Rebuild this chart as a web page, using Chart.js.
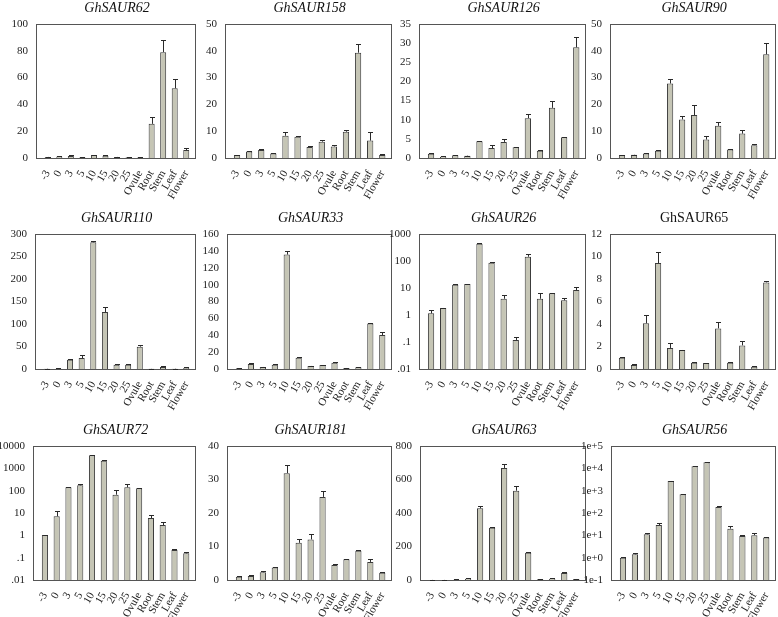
<!DOCTYPE html>
<html><head><meta charset="utf-8">
<script src="https://cdn.jsdelivr.net/npm/chart.js@4.4.1/dist/chart.umd.min.js"></script>
<style>
html,body{margin:0;padding:0;background:#fff;}
body{width:778px;height:617px;position:relative;overflow:hidden;}
canvas{position:absolute;}
</style></head><body>
<script>
// ---------- data ----------
const categories = ["-3","0","3","5","10","15","20","25","Ovule","Root","Stem","Leaf","Flower"];

const titles = ["GhSAUR62","GhSAUR158","GhSAUR126","GhSAUR90",
                "GhSAUR110","GhSAUR33","GhSAUR26","GhSAUR65",
                "GhSAUR72","GhSAUR181","GhSAUR63","GhSAUR56"];
const italicTitles = [true,true,true,true,true,true,true,false,true,true,true,true];

const v62  = [0.8,1.2,1.5,0.5,2.2,1.6,0.8,0.5,0.3,25.5,79,52,6];
const e62  = [0.3,0.3,0.4,0.2,0.4,0.3,0.2,0.2,0.1,4.9,9.2,6.9,1.5];
const v158 = [1.1,2.4,3.0,1.7,8.3,7.9,4.1,6.1,4.3,9.8,39.3,6.5,1.1];
const e158 = [0.2,0.2,0.2,0.3,1.4,0.2,0.3,0.5,0.4,0.5,3.3,3.2,0.5];
const v126 = [1.1,0.35,0.7,0.6,4.4,2.6,4.2,2.8,10.4,1.9,13.1,5.4,28.9];
const e126 = [0.3,0.05,0.05,0.05,0.15,0.7,0.7,0.1,1.1,0.3,1.9,0.2,2.6];
const v90  = [1.1,1.2,1.7,2.7,27.8,14.4,16.0,6.9,12.0,3.2,9.1,4.8,38.7];
const e90  = [0.1,0.1,0.15,0.2,1.6,1.4,3.6,1.3,1.3,0.15,1.2,0.3,4.1];
const v110 = [0.5,0.8,20.7,24.4,281.5,126.7,9.6,9.6,49.6,0.3,4.4,0.5,2];
const e110 = [0.3,0.5,1.5,6.5,2.5,10,2,1,4.5,0.2,1.5,0.3,1.5];
const v33  = [0.8,5.9,2.4,5.1,135.6,13.4,3.6,4.7,7.5,1.2,2,53.8,40.3];
const e33  = [0.2,1.1,0.3,0.5,4,0.5,0.5,0.5,0.5,0.3,0.3,0.8,4];
const v26  = [1.15,1.82,13.3,14,439,87,4.0,0.119,144,4.0,6.35,3.5,8.4];
const e26  = [0.38,0.05,0.3,0.2,38,5,1.5,0.034,32,2.5,0.35,0.8,2.2];
const v65  = [1.0,0.36,4.06,9.42,1.87,1.69,0.56,0.53,3.61,0.56,2.1,0.21,7.7];
const e65  = [0.03,0.05,0.74,1.01,0.44,0.03,0.03,0.03,0.57,0.03,0.39,0.03,0.12];
const v72  = [1.03,7.1,141,173,3820,2200,66,141,127,5.97,2.9,0.22,0.156];
const e72  = [0.05,4.8,5,27,150,80,41,59,5,1.8,0.9,0.03,0.024];
const v181 = [1.0,1.2,2.3,3.7,31.9,11.1,12.1,24.8,4.5,6.2,8.7,5.4,2.2];
const e181 = [0.2,0.2,0.4,0.1,2.4,1.0,1.7,1.7,0.3,0.1,0.4,0.9,0.1];
const v63  = [0.5,0.5,2,8,428,312,669,533,163,4,8,42,6];
const e63  = [0.3,0.3,1,6,16,3,23,26,6,1,2,6,2];
const v56  = [1.0,1.41,11.1,29,2710,685,12300,18600,186,19.9,9.3,10.2,8.1];
const e56  = [0.03,0.15,1.2,7,100,20,400,500,10,6,1.4,2.8,0.5];

// linear axis limits [max, step]
const linMax  = {GhSAUR62:[100,20],GhSAUR158:[50,10],GhSAUR126:[35,5],GhSAUR90:[50,10],
                 GhSAUR110:[300,50],GhSAUR33:[160,20],GhSAUR65:[12,2],GhSAUR181:[40,10],GhSAUR63:[800,200]};
// log axis tick values and labels
const logTicks26  = [0.01,0.1,1,10,100,1000];
const logLabels26 = [".01",".1","1","10","100","1000"];
const logTicks72  = [0.01,0.1,1,10,100,1000,10000];
const logLabels72 = [".01",".1","1","10","100","1000","10000"];
const logTicks56  = [0.1,1,10,100,1000,10000,100000];
const logLabels56 = ["1e-1","1e+0","1e+1","1e+2","1e+3","1e+4","1e+5"];

const seriesValues = [v62,v158,v126,v90,v110,v33,v26,v65,v72,v181,v63,v56];
const seriesErrors = [e62,e158,e126,e90,e110,e33,e26,e65,e72,e181,e63,e56];
const logAxes = {GhSAUR26:[logTicks26,logLabels26],GhSAUR72:[logTicks72,logLabels72],GhSAUR56:[logTicks56,logLabels56]};

// ---------- layout ----------
const rowTop = [24,234,446], rowBottom = [158,369,580];
const axisX = [[36,225,419,610],[35,227,419,610],[33,227,420,611]];
const frameR = [197,393,587,777];
const GAPL = 6, GAPR = 3, YW = 42, XH = 46, TITLE_H = 24;
const FONT = "'Liberation Serif','Times New Roman',Times,serif";

const framePlugin = {
  id: 'frame',
  afterDatasetsDraw(chart, args, opts) {
    const a = chart.chartArea, ctx = chart.ctx;
    ctx.save();
    ctx.strokeStyle = '#555';
    ctx.lineWidth = 1;
    const l = Math.round(a.left - opts.gapL) + 0.5, t = Math.round(a.top) + 0.5;
    const r = Math.round(a.right + opts.gapR) + 0.5, b = Math.round(a.bottom) + 0.5;
    ctx.strokeRect(l, t, r - l, b - t);
    ctx.restore();
  }
};
const errPlugin = {
  id: 'errbars',
  afterDatasetsDraw(chart, args, opts) {
    const ctx = chart.ctx, meta = chart.getDatasetMeta(0), ys = chart.scales.y;
    const vals = chart.data.datasets[0].data, errs = opts.errors || [];
    ctx.save();
    ctx.strokeStyle = '#2a2a2a';
    ctx.lineWidth = 1;
    meta.data.forEach((bar, i) => {
      const e = errs[i]; if (!e) return;
      const x = Math.round(bar.x) + 0.5;
      const y0 = ys.getPixelForValue(vals[i]);
      const y1 = Math.round(ys.getPixelForValue(vals[i] + e)) + 0.5;
      ctx.beginPath();
      ctx.moveTo(x, y0); ctx.lineTo(x, y1);
      ctx.moveTo(x - 2.5, y1); ctx.lineTo(x + 2.5, y1);
      ctx.stroke();
    });
    ctx.restore();
  }
};

titles.forEach((title, i) => {
  const r = Math.floor(i / 4), c = i % 4;
  const ax = axisX[r][c], L = ax + GAPL, R = frameR[c] - GAPR, T = rowTop[r], B = rowBottom[r];
  const cx = L - YW, cy = T - TITLE_H, cw = frameR[c] + 3 - cx, ch = B + XH - cy;
  const cv = document.createElement('canvas');
  cv.width = cw; cv.height = ch;
  cv.style.left = cx + 'px'; cv.style.top = cy + 'px';
  cv.style.width = cw + 'px'; cv.style.height = ch + 'px';
  document.body.appendChild(cv);

  let yScale;
  if (logAxes[title]) {
    const [tv, tl] = logAxes[title];
    yScale = {
      type: 'logarithmic', min: tv[0], max: tv[tv.length - 1],
      afterBuildTicks: s => { s.ticks = tv.map(v => ({value: v, major: true})); },
      ticks: {callback: (v, idx) => tl[idx], color: '#222', font: {family: FONT, size: 11}, padding: 6, autoSkip: false}
    };
  } else {
    const [mx, st] = linMax[title];
    yScale = {
      type: 'linear', min: 0, max: mx,
      ticks: {stepSize: st, color: '#222', font: {family: FONT, size: 11}, padding: 6}
    };
  }
  Object.assign(yScale, {
    position: 'left',
    border: {display: false},
    grid: {display: false},
    afterFit: s => { s.width = YW; }
  });

  new Chart(cv, {
    type: 'bar',
    data: {
      labels: categories,
      datasets: [{
        data: seriesValues[i],
        backgroundColor: '#c5c5b5',
        borderColor: '#3a3a3a',
        borderWidth: 1,
        barPercentage: 0.52,
        categoryPercentage: 1.0
      }]
    },
    options: {
      responsive: false,
      animation: false,
      devicePixelRatio: 1,
      layout: {padding: {left: 0, right: cx + cw - R, top: 0, bottom: 0}},
      plugins: {
        legend: {display: false},
        tooltip: {enabled: false},
        title: {
          display: true, text: title, fullSize: false, color: '#111',
          font: {family: FONT, size: 14, style: italicTitles[i] ? 'italic' : 'normal', weight: 'normal', lineHeight: 1.2},
          padding: {top: 0, bottom: 7.2}
        },
        frame: {gapL: GAPL, gapR: GAPR},
        errbars: {errors: seriesErrors[i]}
      },
      scales: {
        x: {
          border: {display: false},
          grid: {display: false},
          ticks: {color: '#222', font: {family: FONT, size: 11}, minRotation: 60, maxRotation: 60, autoSkip: false, padding: 2},
          afterFit: s => { s.height = XH; }
        },
        y: yScale
      }
    },
    plugins: [framePlugin, errPlugin]
  });
});
</script>
</body></html>
